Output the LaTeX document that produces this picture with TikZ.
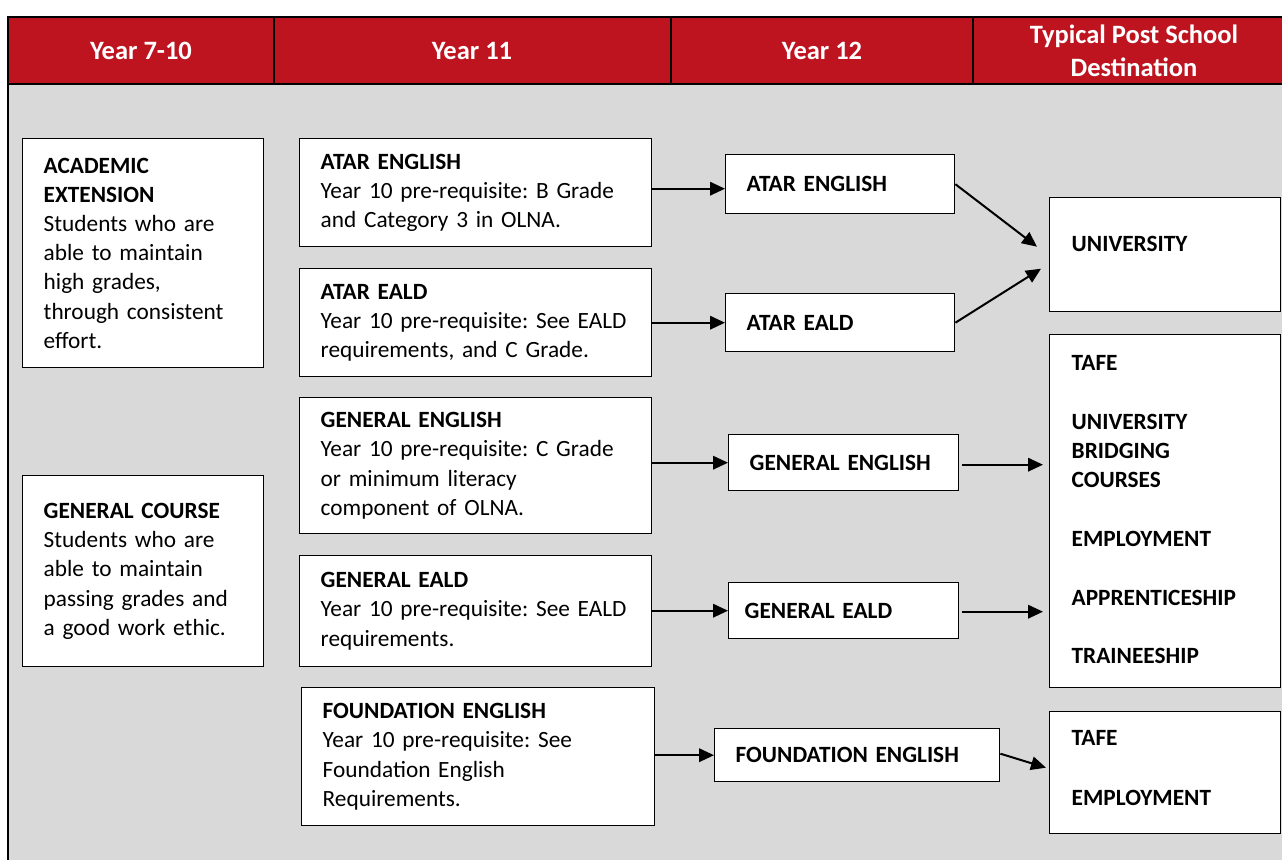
\documentclass[tikz,border=0pt]{standalone}
\usepackage{fontspec}
\setmainfont{Carlito}
\usetikzlibrary{arrows.meta,calc}
\definecolor{hdrred}{HTML}{BE1420}
\definecolor{bggray}{HTML}{D9D9D9}
\begin{document}
\frenchspacing
\begin{tikzpicture}[x=1pt,y=-1pt,
  box/.style={draw=black, line width=1.4pt, fill=white, anchor=north west, align=left,
    inner xsep=21pt, inner ysep=0pt, font=\frenchspacing\fontsize{23.3}{29.2}\selectfont},
  bbox/.style={box, font=\frenchspacing\bfseries\fontsize{23.3}{29.2}\selectfont},
  hdr/.style={text=white, align=center, font=\bfseries\fontsize{26.5}{33}\selectfont},
  arr/.style={line width=2pt, -{Triangle[length=15pt,width=13.5pt]}}]
\useasboundingbox (0,0) rectangle (1282,860);
% table background
\fill[bggray] (8,84) rectangle (1282,860);
\fill[hdrred] (8,17) rectangle (1282,84);
\draw[line width=1.6pt] (1282,17) -- (8,17) -- (8,860);
\draw[line width=1.6pt] (8,84) -- (1282,84);
\draw[line width=1.6pt] (274,17) -- (274,84);
\draw[line width=1.6pt] (671,17) -- (671,84);
\draw[line width=1.6pt] (973,17) -- (973,84);
\node[hdr] (h1) at (141,51) {Year 7-10};
\node[hdr] (h2) at (472,51) {Year 11};
\node[hdr] (h3) at (822,51) {Year 12};
\node[hdr] (h4) at (1134,51) {Typical Post School\\Destination};
% Year 7-10
\node[box, text width=199pt, minimum height=229pt] (ac) at (22,138)
  {\textbf{ACADEMIC}\\\textbf{EXTENSION}\\\mbox{Students who are}\\\mbox{able to maintain}\\high grades,\\\mbox{through consistent}\\effort.};
\node[box, text width=199pt, minimum height=191pt] (gc) at (22,475)
  {\mbox{\textbf{GENERAL COURSE}}\\\mbox{Students who are}\\\mbox{able to maintain}\\\mbox{passing grades and}\\\mbox{a good work ethic.}};
% Year 11
\node[box, text width=310pt, minimum height=108pt] (a11) at (299,138)
  {\textbf{ATAR ENGLISH}\\\mbox{Year 10 pre-requisite: B Grade}\\\mbox{and Category 3 in OLNA.}};
\node[box, text width=310pt, minimum height=108pt] (e11) at (299,268)
  {\textbf{ATAR EALD}\\\mbox{Year 10 pre-requisite: See EALD}\\\mbox{requirements, and C Grade.}};
\node[box, text width=310pt, minimum height=136pt] (g11) at (299,397)
  {\textbf{GENERAL ENGLISH}\\\mbox{Year 10 pre-requisite: C Grade}\\\mbox{or minimum literacy}\\\mbox{component of OLNA.}};
\node[box, text width=310pt, minimum height=111pt] (ge11) at (299,555)
  {\textbf{GENERAL EALD}\\\mbox{Year 10 pre-requisite: See EALD}\\requirements.};
\node[box, text width=311pt, minimum height=138pt] (f11) at (301,687)
  {\textbf{FOUNDATION ENGLISH}\\\mbox{Year 10 pre-requisite: See}\\\mbox{Foundation English}\\Requirements.};
% Year 12
\node[bbox, text width=187pt, minimum height=59pt] (a12) at (725,154) {ATAR ENGLISH};
\node[bbox, text width=187pt, minimum height=58pt] (e12) at (725,293) {ATAR EALD};
\node[bbox, text width=188pt, minimum height=56pt] (g12) at (728,434) {\mbox{GENERAL ENGLISH}};
\node[bbox, inner xsep=16pt, text width=198pt, minimum height=56pt] (ge12) at (728,582) {GENERAL EALD};
\node[bbox, text width=243pt, minimum height=53pt] (f12) at (714,728) {\mbox{FOUNDATION ENGLISH}};
% Destinations
\node[bbox, inner xsep=22pt, text width=187pt, minimum height=114pt] (uni) at (1049,197) {UNIVERSITY\\[-7pt]\mbox{}};
\node[bbox, inner xsep=22pt, text width=187pt, minimum height=353pt] (tafe) at (1049,334)
  {TAFE\\[29.5pt]UNIVERSITY\\BRIDGING\\COURSES\\[29.5pt]EMPLOYMENT\\[29.5pt]\mbox{APPRENTICESHIP}\\[29.5pt]TRAINEESHIP\\[-26pt]\mbox{}};
\node[bbox, inner xsep=22pt, text width=187pt, minimum height=122pt] (fdest) at (1049,711)
  {TAFE\\[31pt]EMPLOYMENT\\[-19pt]\mbox{}};
% arrows Year 11 -> Year 12
\draw[arr] ($(a11.east)+(0,-4)$) -- ($(a12.west)+(0,4.5)$);
\draw[arr] (e11.east) -- (e12.west |- e11.east);
\draw[arr] (g11.east |- g12.west) -- (g12.west);
\draw[arr] (ge11.east |- ge12.west) -- (ge12.west);
\draw[arr] (f11.east |- f12.west) -- (f12.west);
% arrows Year 12 -> destination
\draw[arr] (a12.east) -- ($(uni.west)+(-12,-8)$);
\draw[arr] (e12.east) -- ($(uni.west)+(-8,14)$);
\draw[arr] ($(g12.east)+(3,2)$) -- ($(tafe.west |- g12.east)+(-6,2)$);
\draw[arr] ($(ge12.east)+(3,1)$) -- ($(tafe.west |- ge12.east)+(-6,1)$);
\draw[arr] ($(f12.east)+(0,-1.5)$) -- ($(fdest.west)+(-3,-5)$);
\end{tikzpicture}
\end{document}
